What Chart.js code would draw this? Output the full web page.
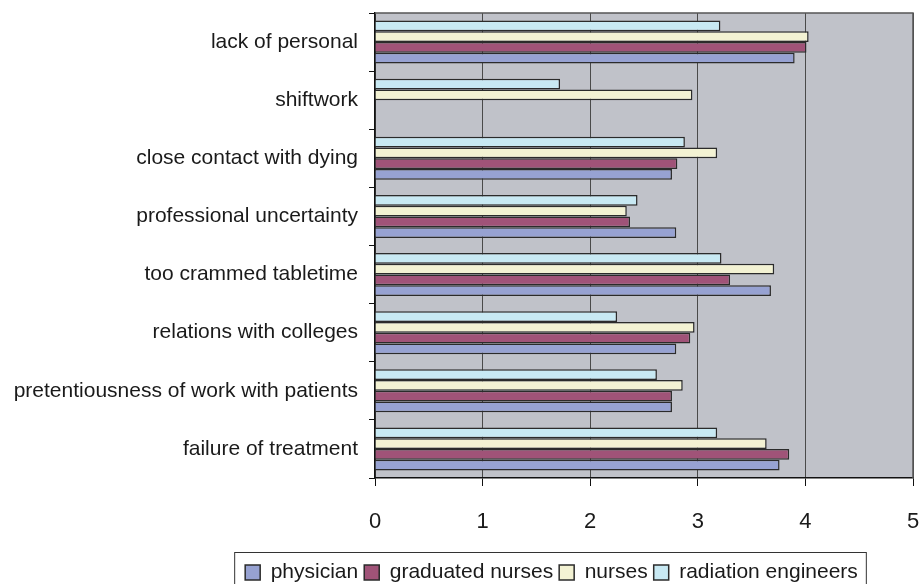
<!DOCTYPE html>
<html lang="en">
<head>
    <meta charset="UTF-8">
    <title>Stress factors</title>
    <script src="https://cdn.jsdelivr.net/npm/chart.js"></script>
    <style>
        body { margin: 0; background: #fff; }
        #wrap { width: 922px; height: 584px; }
    </style>
</head>
<body>
<div id="wrap">
    <canvas id="myChart" width="922" height="584"></canvas>
</div>
<script>
    // categories, top to bottom
    var categories = [
        'lack of personal',
        'shiftwork',
        'close contact with dying',
        'professional uncertainty',
        'too crammed tabletime',
        'relations with colleges',
        'pretentiousness of work with patients',
        'failure of treatment'
    ];

    var physician        = [3.90, null, 2.76, 2.80, 3.68, 2.80, 2.76, 3.76];
    var graduatedNurses  = [4.01, null, 2.81, 2.37, 3.30, 2.93, 2.76, 3.85];
    var nurses           = [4.03, 2.95, 3.18, 2.34, 3.71, 2.97, 2.86, 3.64];
    var radiationEng     = [3.21, 1.72, 2.88, 2.44, 3.22, 2.25, 2.62, 3.18];

    var xTicks = [0, 1, 2, 3, 4, 5];

    // legend sits right of the canvas centre in the original
    var LEGEND_DX = 95, LEGEND_DY = 9;

    const plotBg = {
        id: 'plotBg',
        afterLayout(chart) {
            const lg = chart.legend;
            if (lg && !lg._shifted) {
                const orig = lg.draw.bind(lg);
                lg.draw = function () {
                    chart.ctx.save();
                    chart.ctx.translate(LEGEND_DX, LEGEND_DY);
                    orig.apply(null, arguments);
                    chart.ctx.restore();
                };
                lg._shifted = true;
            }
        },
        beforeDraw(chart) {
            const a = chart.chartArea, ctx = chart.ctx;
            ctx.save();
            ctx.fillStyle = '#c0c2c9';
            ctx.fillRect(a.left, a.top, a.right - a.left, a.bottom - a.top);
            ctx.restore();
        },
        afterDatasetsDraw(chart) {
            const a = chart.chartArea, ctx = chart.ctx;
            ctx.save();
            ctx.strokeStyle = '#555';
            ctx.lineWidth = 1.5;
            ctx.beginPath();
            ctx.moveTo(a.left, a.top);
            ctx.lineTo(a.right, a.top);
            ctx.lineTo(a.right, a.bottom);
            ctx.stroke();
            ctx.restore();
        },
        afterDraw(chart) {
            // box round the legend
            const lg = chart.legend, ctx = chart.ctx;
            if (!lg || !lg.legendHitBoxes.length) return;
            var l = 1e9, r = -1e9;
            lg.legendHitBoxes.forEach(function (h) {
                l = Math.min(l, h.left);
                r = Math.max(r, h.left + h.width);
            });
            ctx.save();
            ctx.strokeStyle = '#333';
            ctx.lineWidth = 1;
            ctx.strokeRect(l + LEGEND_DX - 10.5, 552.5, (r - l) + 19, 32);
            ctx.restore();
        }
    };

    const chartdata = {
        labels: categories,
        datasets: [
            {
                label: 'radiation engineers',
                data: radiationEng,
                backgroundColor: '#c8e9f3',
                borderColor: '#2b2b2b',
                borderWidth: 1.5
            },
            {
                label: 'nurses',
                data: nurses,
                backgroundColor: '#f3f2d3',
                borderColor: '#2b2b2b',
                borderWidth: 1.5
            },
            {
                label: 'graduated nurses',
                data: graduatedNurses,
                backgroundColor: '#a05378',
                borderColor: '#2b2b2b',
                borderWidth: 1.5
            },
            {
                label: 'physician',
                data: physician,
                backgroundColor: '#97a2d2',
                borderColor: '#2b2b2b',
                borderWidth: 1.5
            }
        ]
    };

    const config = {
        type: 'bar',
        data: chartdata,
        options: {
            indexAxis: 'y',
            responsive: false,
            animation: false,
            layout: { padding: { top: 13, right: 9, left: 0, bottom: 0 } },
            datasets: {
                bar: { categoryPercentage: 0.74, barPercentage: 1.0 }
            },
            scales: {
                x: {
                    min: 0,
                    max: 5,
                    afterBuildTicks: function (scale) {
                        scale.ticks = xTicks.map(function (v) { return { value: v }; });
                    },
                    afterFit: function (scale) {
                        scale.height = 69;
                        scale.paddingLeft = 0;
                        scale.paddingRight = 0;
                    },
                    grid: {
                        color: '#4a4a4a',
                        lineWidth: 1,
                        tickLength: 8,
                        tickColor: '#111'
                    },
                    border: { color: '#111', width: 1.5 },
                    ticks: {
                        color: '#1a1a1a',
                        padding: 23,
                        font: { family: '"Liberation Sans", Arial, sans-serif', size: 22 }
                    }
                },
                y: {
                    afterFit: function (scale) {
                        scale.width = 375;
                        scale.paddingTop = 0;
                        scale.paddingBottom = 0;
                    },
                    grid: {
                        offset: true,
                        drawOnChartArea: false,
                        tickLength: 6,
                        tickColor: '#111'
                    },
                    border: { color: '#111', width: 1.5 },
                    ticks: {
                        color: '#1a1a1a',
                        padding: 11,
                        font: { family: '"Liberation Sans", Arial, sans-serif', size: 21 }
                    }
                }
            },
            plugins: {
                tooltip: { enabled: false },
                legend: {
                    position: 'bottom',
                    reverse: true,
                    labels: {
                        boxWidth: 15,
                        boxHeight: 15,
                        padding: 6,
                        color: '#1a1a1a',
                        font: { family: '"Liberation Sans", Arial, sans-serif', size: 21 }
                    }
                }
            }
        },
        plugins: [plotBg]
    };

    var myChart = new Chart(document.getElementById('myChart'), config);
</script>
</body>
</html>
